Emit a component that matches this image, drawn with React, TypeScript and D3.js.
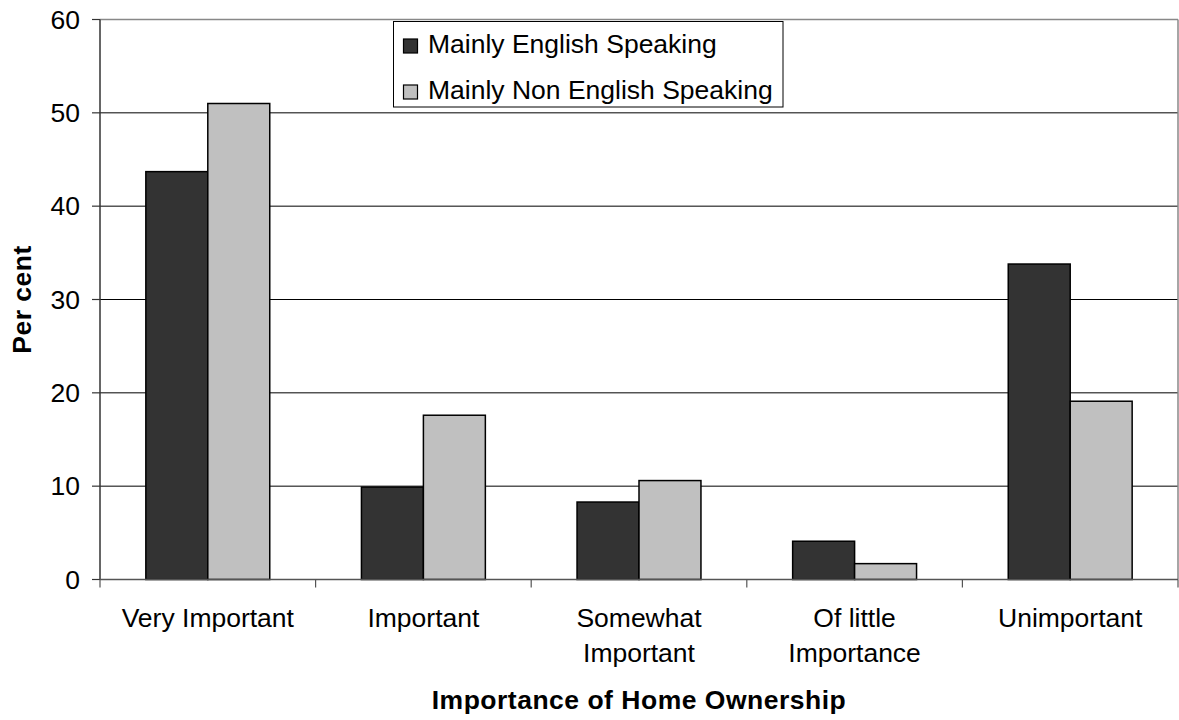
import React from "react";
import * as d3 from "d3";

const categories: string[][] = [
  ["Very Important"],
  ["Important"],
  ["Somewhat", "Important"],
  ["Of little", "Importance"],
  ["Unimportant"],
];
const seriesNames = ["Mainly English Speaking", "Mainly Non English Speaking"];
const englishValues = [43.7, 9.9, 8.3, 4.1, 33.8];
const nonEnglishValues = [51.0, 17.6, 10.6, 1.7, 19.1];
const seriesColors = ["#333333", "#C0C0C0"];
const yTicks = [0, 10, 20, 30, 40, 50, 60];

const W = 1179;
const H = 720;
const M = { left: 100, right: 1178, top: 19.5, bottom: 579.5 };
const FONT = "'Liberation Sans', Arial, sans-serif";
const FS = 26.5;

export default function App() {
  const idx = categories.map((_, i) => i);
  const x = d3.scaleBand<number>().domain(idx).range([M.left, M.right]).paddingInner(0).paddingOuter(0);
  const inner = d3
    .scaleBand<number>()
    .domain([0, 1])
    .range([0, x.bandwidth()])
    .paddingInner(0)
    .paddingOuter(0.74);
  const y = d3.scaleLinear().domain([0, 60]).range([M.bottom, M.top]);
  const series = [englishValues, nonEnglishValues];
  const bw = x.bandwidth();

  return (
    <svg
      width={W}
      height={H}
      style={{ position: "absolute", left: 0, top: 0, background: "#fff" }}
      fontFamily={FONT}
    >
      <rect x={0} y={0} width={W} height={H} fill="#fff" />
      {/* gridlines */}
      {yTicks
        .filter((t) => t > 0 && t < 60)
        .map((t) => (
          <line key={"g" + t} x1={M.left} x2={M.right} y1={y(t)} y2={y(t)} stroke="#000" strokeWidth={1} />
        ))}
      {/* plot border top/right */}
      <line x1={M.left} x2={M.right} y1={y(60)} y2={y(60)} stroke="#888" strokeWidth={1.5} />
      <line x1={M.right} x2={M.right} y1={y(60)} y2={y(0)} stroke="#888" strokeWidth={1.5} />
      {/* bars */}
      {series.map((vals, s) =>
        vals.map((v, i) => (
          <rect
            key={`b${s}-${i}`}
            x={(x(i) as number) + (inner(s) as number)}
            y={y(v)}
            width={inner.bandwidth()}
            height={y(0) - y(v)}
            fill={seriesColors[s]}
            stroke="#000"
            strokeWidth={1.5}
          />
        ))
      )}
      {/* y axis */}
      <line x1={M.left} x2={M.left} y1={y(60)} y2={y(0)} stroke="#333" strokeWidth={1.5} />
      {yTicks.map((t) => (
        <g key={"yt" + t}>
          <line x1={M.left - 8} x2={M.left} y1={y(t)} y2={y(t)} stroke="#333" strokeWidth={1.2} />
          <text x={80} y={y(t)} dy="0.35em" textAnchor="end" fontSize={FS} fill="#000">
            {t}
          </text>
        </g>
      ))}
      {/* x axis */}
      <line x1={M.left} x2={M.right} y1={y(0)} y2={y(0)} stroke="#555" strokeWidth={1.5} />
      {idx.concat([idx.length]).map((i) => {
        const xx = i < idx.length ? (x(i) as number) : M.right;
        return <line key={"xt" + i} x1={xx} x2={xx} y1={y(0)} y2={y(0) + 8} stroke="#555" strokeWidth={1.2} />;
      })}
      {categories.map((lines, i) => (
        <text key={"xl" + i} textAnchor="middle" fontSize={FS} fill="#000">
          {lines.map((ln, j) => (
            <tspan key={j} x={(x(i) as number) + bw / 2} y={627 + j * 35}>
              {ln}
            </tspan>
          ))}
        </text>
      ))}
      {/* axis titles */}
      <text
        x={(M.left + M.right) / 2}
        y={709}
        textAnchor="middle"
        fontSize={FS}
        fontWeight="bold"
        letterSpacing={0.5}
        fill="#000"
      >
        Importance of Home Ownership
      </text>
      <text
        transform={`translate(31, ${(M.top + M.bottom) / 2}) rotate(-90)`}
        textAnchor="middle"
        fontSize={FS}
        fontWeight="bold"
        letterSpacing={0.5}
        fill="#000"
      >
        Per cent
      </text>
      {/* legend */}
      <rect x={393.5} y={21.5} width={389.5} height={85.5} fill="#fff" stroke="#000" strokeWidth={1} />
      {seriesNames.map((name, s) => (
        <g key={"lg" + s}>
          <rect x={403.5} y={39 + s * 46} width={14} height={14} fill={seriesColors[s]} stroke="#000" strokeWidth={1.2} />
          <text x={428} y={52.5 + s * 46} fontSize={FS} fill="#000">
            {name}
          </text>
        </g>
      ))}
    </svg>
  );
}
